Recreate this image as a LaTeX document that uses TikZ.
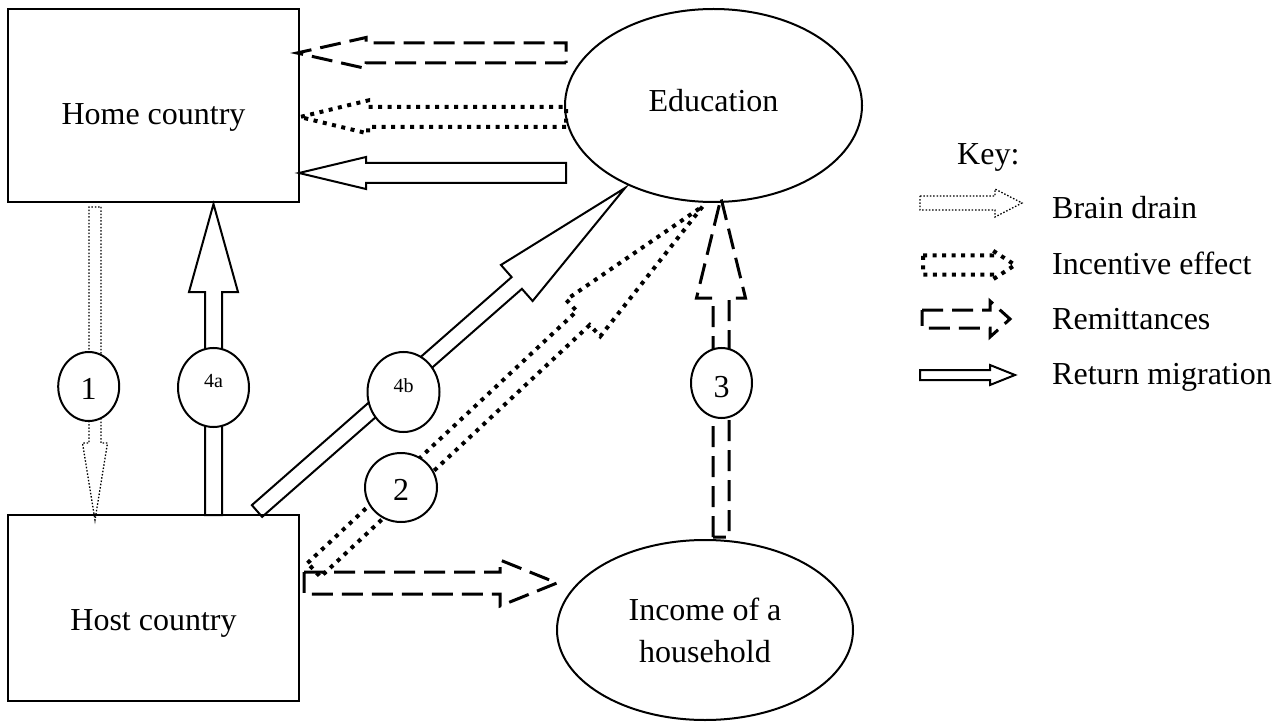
\documentclass[tikz,border=0pt]{standalone}
\usepackage{fontspec}
\setmainfont{Liberation Serif}
\usetikzlibrary{calc,shapes.geometric}
\newcommand\fatarrow[6]{%
  \coordinate (fab) at ($(#3)!#6!(#2)$);
  \draw[#1] ($(#2)!#4!90:(#3)$) -- ($(fab)!#4!90:(#3)$) -- ($(fab)!#5!90:(#3)$) -- (#3)
    -- ($(fab)!#5!-90:(#3)$) -- ($(fab)!#4!-90:(#3)$) -- ($(#2)!#4!-90:(#3)$) -- cycle;}
\begin{document}
\begin{tikzpicture}[x=1pt,y=-1pt, line join=miter,
  every node/.style={font=\fontsize{32}{42}\selectfont},
  box/.style={draw, line width=2pt, minimum width=291pt, minimum height=193pt, inner sep=0pt, text depth=0pt},
  oval/.style={draw, ellipse, line width=2pt, inner sep=0pt},
  num/.style={draw, ellipse, fill=white, line width=2pt, inner sep=0pt, text depth=0pt},
  small/.style={font=\fontsize{20}{24}\selectfont},
  keytext/.style={anchor=base west, inner sep=0pt},
  drain/.style={line width=1.3pt, dash pattern=on 1.5pt off 1.8pt},
  incent/.style={line width=4pt, dash pattern=on 4pt off 5.5pt},
  remit/.style={line width=3pt, dash pattern=on 21pt off 9pt},
  ret/.style={line width=2pt}]
\useasboundingbox (0,0) rectangle (1280,722);

% connectors (fat arrows)
\coordinate (a1s) at (95,207);   \coordinate (a1e) at (95,520);
\fatarrow{drain}{a1s}{a1e}{6pt}{12.5pt}{77pt}
\coordinate (a4as) at (213.5,515); \coordinate (a4ae) at (213.5,204);
\fatarrow{ret}{a4as}{a4ae}{8.5pt}{24.5pt}{88pt}
\coordinate (a4bs) at (257,511); \coordinate (a4be) at (625,188);
\fatarrow{ret}{a4bs}{a4be}{7.8pt}{24pt}{144pt}
\coordinate (a2s) at (314,570); \coordinate (a2e) at (703,206);
\fatarrow{incent}{a2s}{a2e}{9.5pt}{25pt}{164pt}
\coordinate (a3s) at (721,537); \coordinate (a3e) at (721,198);
\fatarrow{remit}{a3s}{a3e}{8pt}{24.5pt}{100pt}
\coordinate (t1s) at (566,53); \coordinate (t1e) at (297,53);
\fatarrow{remit}{t1s}{t1e}{10pt}{15.5pt}{69pt}
\coordinate (t2s) at (566,117); \coordinate (t2e) at (300,117);
\fatarrow{incent}{t2s}{t2e}{10pt}{16.5pt}{68pt}
\coordinate (t3s) at (566,173); \coordinate (t3e) at (299,173);
\fatarrow{ret}{t3s}{t3e}{10pt}{16pt}{67pt}
\coordinate (h1s) at (304,583); \coordinate (h1e) at (557,583);
\fatarrow{remit}{h1s}{h1e}{11pt}{23pt}{57pt}

% main nodes
\node[box, text height=39pt] (home) at (153.5,105.5) {Home country};
\node[box, minimum height=186pt, text height=44pt] (host) at (153.5,608) {Host country};
\node[oval, minimum width=297pt, minimum height=193pt, text height=13pt, text depth=0pt] (edu) at (713.5,105.5) {Education};
\node[oval, minimum width=296pt, minimum height=180pt, align=center] (inc) at (705,630) {Income of a\\household};

% numbered circles
\node[num, minimum width=61pt, minimum height=69pt, text height=25pt] (c1) at (88.7,386.5) {1};
\node[num, small, minimum width=71pt, minimum height=79pt, text height=0pt, text depth=1pt] (c4a) at (213.5,387.5) {4a};
\node[num, small, minimum width=72pt, minimum height=80pt, text height=0pt] (c4b) at (403.5,392) {4b};
\node[num, minimum width=72pt, minimum height=69pt, text height=25pt] (c2) at (401,487.5) {2};
\node[num, minimum width=61pt, minimum height=70pt, text height=28pt] (c3) at (721.5,383) {3};

% key
\node[keytext] (key) at (957,165) {Key:};
\node[keytext] (kbd) at (1052,219) {Brain drain};
\node[keytext] (kie) at (1052,275) {Incentive effect};
\node[keytext] (krm) at (1052,329) {Remittances};
\node[keytext] (krt) at (1052,384) {Return migration};
\coordinate (k1s) at (920,203); \coordinate (k1e) at (1022,203);
\fatarrow{drain}{k1s}{k1e}{7pt}{14pt}{27pt}
\coordinate (k2s) at (923,265); \coordinate (k2e) at (1015,265);
\fatarrow{incent}{k2s}{k2e}{9.5pt}{15pt}{23pt}
\coordinate (k3s) at (922,319); \coordinate (k3e) at (1010,319);
\fatarrow{remit}{k3s}{k3e}{9pt}{18pt}{20pt}
\coordinate (k4s) at (920,375); \coordinate (k4e) at (1015,375);
\fatarrow{ret}{k4s}{k4e}{5pt}{10pt}{25pt}
\end{tikzpicture}
\end{document}
